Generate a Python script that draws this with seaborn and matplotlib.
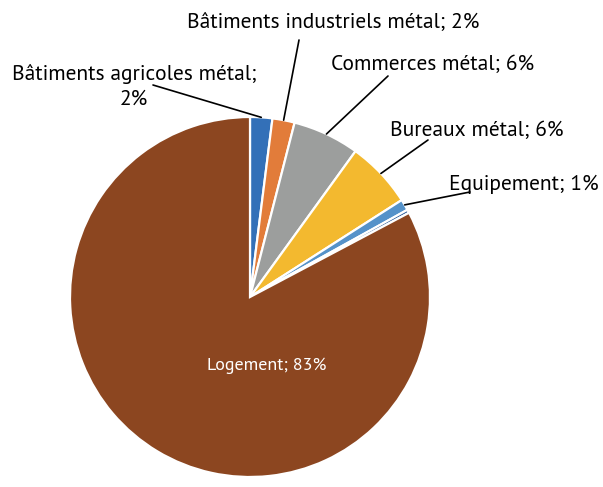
import matplotlib
matplotlib.use("Agg")
import matplotlib.pyplot as plt
import numpy as np
import seaborn as sns

# Shares of metal construction by building type (percent)
categories = ["Bâtiments agricoles métal", "Bâtiments industriels métal",
              "Commerces métal", "Bureaux métal", "Equipement", "Autres", "Logement"]
values = [2, 2, 6, 6, 1, 0.3, 83]
labels = ["Bâtiments agricoles métal;\n2%", "Bâtiments industriels métal; 2%",
          "Commerces métal; 6%", "Bureaux métal; 6%", "Equipement; 1%", "", "Logement; 83%"]
colors = ["#3370B8", "#E27C3A", "#9C9E9D", "#F3B92F", "#5592C9", "#2A5A96", "#8C4620"]

sns.set_theme(style="white")
plt.rcParams["font.family"] = ["PT Sans", "DejaVu Sans"]

fig = plt.figure(figsize=(6.03, 4.87), dpi=100)
ax = fig.add_axes([70 / 603, 10 / 487, 360 / 603, 360 / 487])

wedges, _ = ax.pie(values, colors=colors, startangle=90, counterclock=False,
                   radius=1, wedgeprops=dict(edgecolor="white", linewidth=1.6))
ax.set_xlim(-1, 1)
ax.set_ylim(-1, 1)
ax.set_aspect("equal")
ax.axis("off")


def px(x, y):
    # pixel position (origin top-left) to data coordinates of the pie axes
    return (x - 250) / 180, (297 - y) / 180


# text anchor (pixel) and leader start (pixel) for each outside label
label_layout = {
    0: ((134, 86), (153, 85)),
    1: ((333, 22), (299, 40)),
    2: ((433, 65), (388, 76)),
    3: ((477, 131), (428, 140)),
    4: ((524, 184), (470, 192)),
}

total = sum(values)
cum = np.cumsum([0] + values)
for i, ((tx, ty), (lx, ly)) in label_layout.items():
    mid = (cum[i] + values[i] / 2) / total * 360
    ang = np.deg2rad(90 - mid)
    ex, ey = np.cos(ang), np.sin(ang)
    sx, sy = px(lx, ly)
    ax.plot([sx, ex], [sy, ey], color="black", lw=1.2, clip_on=False)
    x, y = px(tx, ty)
    ax.text(x, y, labels[i], ha="center", va="center", fontsize=15.5,
            color="black", linespacing=1.4, clip_on=False)

x, y = px(267, 366)
ax.text(x, y, labels[6], ha="center", va="center", fontsize=13, color="white")

fig.savefig("out.png", dpi=100)
